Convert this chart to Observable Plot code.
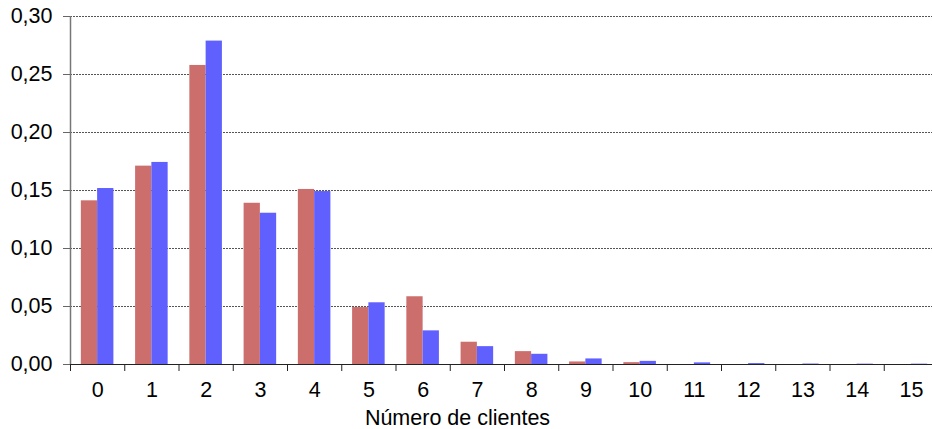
<!DOCTYPE html>
<html>
<head>
<meta charset="utf-8">
<script src="https://cdn.jsdelivr.net/npm/d3@7"></script>
<script src="https://cdn.jsdelivr.net/npm/@observablehq/plot@0.6"></script>
<style>
  html, body { margin: 0; padding: 0; background: #fff; }
  svg { display: block; }
</style>
</head>
<body>
<div id="chart"></div>
<script>
const categories = [0, 1, 2, 3, 4, 5, 6, 7, 8, 9, 10, 11, 12, 13, 14, 15];
const observado = [0.1411, 0.1710, 0.2578, 0.1390, 0.1509, 0.0491, 0.0584, 0.0192, 0.0111, 0.0022, 0.0016, 0, 0, 0, 0, 0];
const teorico   = [0.1517, 0.1742, 0.2788, 0.1304, 0.1491, 0.0532, 0.0290, 0.0154, 0.0088, 0.0048, 0.0027, 0.0014, 0.0008, 0.0004, 0.0003, 0.0003];
const yTicks = [0, 0.05, 0.10, 0.15, 0.20, 0.25, 0.30];
const xLabel = "Número de clientes";

const redRows = categories.map((c, i) => ({c, v: observado[i]}));
const blueRows = categories.map((c, i) => ({c, v: teorico[i]}));
const boundaries = categories.concat([categories.length]).map(c => c - 0.5);
const half = 0.3;
const fmt = d => d3.format(".2f")(d).replace(".", ",");
const font = "'Liberation Sans', Arial, sans-serif";
const fs = 21.5;

const chart = Plot.plot({
  width: 932,
  height: 429,
  marginTop: 16,
  marginBottom: 65,
  marginLeft: 70,
  marginRight: 0,
  style: {fontFamily: font, fontSize: fs + "px", background: "#fff", color: "#000"},
  x: {type: "linear", domain: [-0.5, 15.5], range: [70, 938]},
  y: {domain: [0, 0.30]},
  marks: [
    Plot.ruleY(yTicks.filter(d => d > 0), {stroke: "#555", strokeWidth: 1, strokeDasharray: "2,1"}),
    Plot.rectY(redRows, {x1: d => d.c - half, x2: d => d.c, y: "v", fill: "#cc6e6c"}),
    Plot.rectY(blueRows, {x1: d => d.c, x2: d => d.c + half, y: "v", fill: "#6060ff"}),
    Plot.ruleX([-0.5], {y1: 0, y2: 0.30, stroke: "#777", strokeWidth: 1.5}),
    Plot.ruleY([0], {stroke: "#222", strokeWidth: 1.2}),
    Plot.axisY({ticks: yTicks, tickFormat: fmt, tickSize: 7, tickPadding: 11, stroke: "#666", fontSize: fs, label: null}),
    Plot.axisX({ticks: boundaries, tickFormat: () => "", tickSize: 7, stroke: "#222", label: null}),
    Plot.axisX({ticks: categories, tickFormat: d => String(d), tickSize: 0, tickPadding: 17, fontSize: fs, label: null}),
    Plot.text([xLabel], {frameAnchor: "bottom", dx: -44, dy: 45, lineAnchor: "top", fontSize: fs, fill: "#000"})
  ]
});
document.getElementById("chart").appendChild(chart);
</script>
</body>
</html>
